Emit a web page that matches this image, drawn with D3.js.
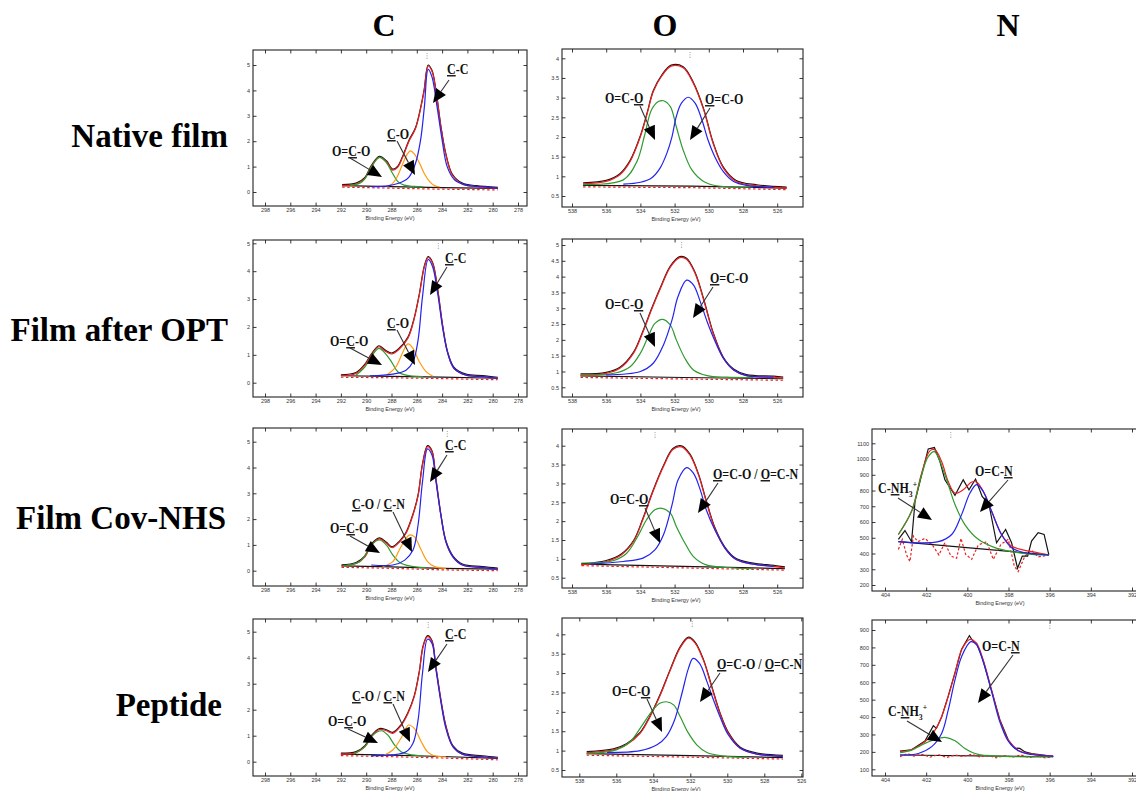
<!DOCTYPE html>
<html lang="en">
<head>
<meta charset="UTF-8">
<title>XPS C1s / O1s / N1s</title>
<script src="https://d3js.org/d3.v7.min.js"></script>
<style>
  body { margin: 0; background: #fff; }
  svg { display: block; }
  .frame { fill: none; stroke: #222; stroke-width: 1.1; }
  .axis path { display: none; }
  .axis line { stroke: #222; stroke-width: 0.9; }
  .axis text { font-family: 'Liberation Sans', Arial, sans-serif; font-size: 5.5px; fill: #333; }
  .xtitle { font-family: 'Liberation Sans', Arial, sans-serif; font-size: 5.5px; fill: #333; }
  .curve { fill: none; stroke-width: 1.2; }
  .head { font-family: 'Liberation Serif', 'Times New Roman', serif; font-weight: bold; font-size: 32px; fill: #000; }
  .note { font-family: 'Liberation Serif', 'Times New Roman', serif; font-weight: bold; font-size: 14px; fill: #111; }
</style>
</head>
<body>
<svg id="fig" width="1136" height="791"></svg>
<script>
// ---- headers ----
const columnNames = ['C', 'O', 'N'];
const rowNames = ['Native film', 'Film after OPT', 'Film Cov-NHS', 'Peptide'];

// ---- tick labels ----
const cTicksX = [298, 296, 294, 292, 290, 288, 286, 284, 282, 280, 278];
const cTicksY = [0, 1, 2, 3, 4, 5];
const oTicksX = [538, 536, 534, 532, 530, 528, 526];
const oTicksY = [0.5, 1, 1.5, 2, 2.5, 3, 3.5, 4];
const oTicksY2 = [0.5, 1, 1.5, 2, 2.5, 3, 3.5, 4, 4.5, 5];
const nTicksX = [404, 402, 400, 398, 396, 394, 392];
const nTicksY3 = [200, 300, 400, 500, 600, 700, 800, 900, 1000, 1100];
const nTicksY4 = [100, 200, 300, 400, 500, 600, 700, 800, 900];

// ---- C 1s, native film ----
const c1Red = [[291.9,0.25],[290.8,0.31],[290.1,0.54],[289.6,1.0],[288.95,1.36],[288.4,1.19],[287.9,0.86],[287.5,0.98],[287.1,1.39],[286.6,2.02],[286.1,2.5],[285.45,3.9],[285.1,4.96],[284.8,4.75],[284.5,4.02],[284.1,2.57],[283.7,1.46],[283.2,0.67],[282.4,0.31],[281.3,0.21],[279.6,0.14]];
const c1Green = [[291.3,0.25],[290.5,0.35],[290.1,0.52],[289.6,0.98],[288.95,1.36],[288.4,1.15],[287.9,0.72],[287.5,0.41],[287.0,0.27],[286.2,0.22],[285.5,0.2]];
const c1Orange = [[288.4,0.22],[288.0,0.3],[287.6,0.55],[287.2,1.0],[286.8,1.45],[286.5,1.62],[286.2,1.5],[285.8,1.15],[285.4,0.72],[285.0,0.42],[284.6,0.25],[284.2,0.2]];
const c1Blue = [[289.6,0.21],[288.2,0.25],[287.1,0.41],[286.6,0.6],[286.1,1.13],[285.7,2.05],[285.4,3.36],[285.1,4.83],[284.8,4.53],[284.4,3.36],[284.0,2.05],[283.6,1.0],[283.0,0.47],[282.1,0.27],[280.8,0.21],[279.6,0.14]];
const c1Base = [[291.9,0.25],[288,0.21],[284,0.17],[279.6,0.14]];

// ---- C 1s, film after OPT ----
const c2Red = [[292.0,0.25],[290.8,0.33],[290.1,0.63],[289.6,0.99],[289.0,1.29],[288.55,1.15],[288.0,1.03],[287.4,1.2],[286.7,1.6],[286.2,2.3],[285.8,3.15],[285.4,4.16],[285.1,4.49],[284.75,4.28],[284.35,3.32],[283.95,2.0],[283.55,1.05],[283.05,0.51],[282.1,0.27],[280.8,0.22],[279.6,0.16]];
const c2Green = [[290.8,0.27],[290.1,0.57],[289.6,0.93],[289.0,1.23],[288.55,1.08],[288.0,0.75],[287.5,0.39],[286.85,0.27],[285.5,0.22]];
const c2Orange = [[288.4,0.27],[287.65,0.57],[287.15,1.05],[286.7,1.39],[286.3,1.23],[285.8,0.75],[285.25,0.39],[284.75,0.24]];
const c2Blue = [[289.7,0.25],[287.9,0.31],[286.85,0.45],[286.3,0.75],[285.9,1.53],[285.55,3.08],[285.1,4.42],[284.75,4.16],[284.35,3.2],[283.95,1.95],[283.55,1.05],[283.05,0.51],[282.1,0.27],[280.8,0.22],[279.6,0.16]];
const c2Base = [[292,0.25],[288,0.23],[284,0.2],[279.6,0.16]];

// ---- C 1s, film Cov-NHS ----
const c3Red = [[291.95,0.19],[290.8,0.28],[290.1,0.54],[289.6,0.99],[288.95,1.23],[288.4,1.06],[287.95,0.89],[287.35,1.12],[286.85,1.45],[286.3,2.16],[285.9,2.9],[285.55,4.1],[285.15,4.81],[284.8,4.61],[284.5,3.58],[284.1,2.16],[283.7,1.12],[283.15,0.54],[282.4,0.22],[280.8,0.12],[279.6,0.06]];
const c3Green = [[291.85,0.19],[290.5,0.35],[290.0,0.67],[289.45,1.06],[288.95,1.19],[288.4,0.99],[287.9,0.61],[287.35,0.32],[286.6,0.19],[285.3,0.12]];
const c3Orange = [[288.7,0.16],[287.9,0.35],[287.25,0.93],[286.6,1.38],[286.2,1.32],[285.65,0.8],[285.15,0.35],[284.6,0.16],[283.7,0.09]];
const c3Blue = [[289.6,0.22],[287.9,0.22],[286.95,0.41],[286.3,0.8],[285.9,1.77],[285.55,3.45],[285.15,4.72],[284.8,4.48],[284.5,3.51],[284.1,2.16],[283.7,1.12],[283.15,0.54],[282.4,0.22],[280.8,0.12],[279.6,0.06]];
const c3Base = [[291.95,0.19],[288,0.15],[284,0.09],[279.6,0.06]];

// ---- C 1s, peptide ----
const c4Red = [[292.0,0.29],[290.8,0.35],[290.1,0.58],[289.6,0.96],[288.95,1.24],[288.4,1.19],[287.9,1.09],[287.25,1.38],[286.7,1.85],[286.2,2.5],[285.8,3.45],[285.5,4.42],[285.15,4.81],[284.8,4.62],[284.5,3.65],[284.1,2.37],[283.7,1.35],[283.15,0.58],[282.4,0.29],[280.8,0.19],[279.6,0.13]];
const c4Green = [[291.0,0.29],[290.1,0.58],[289.45,1.03],[288.8,1.19],[288.3,1.03],[287.75,0.64],[287.25,0.38],[286.6,0.28],[285.5,0.22]];
const c4Orange = [[288.55,0.26],[287.9,0.45],[287.25,0.9],[286.65,1.41],[286.2,1.28],[285.65,0.77],[285.15,0.38],[284.6,0.23],[283.7,0.19]];
const c4Blue = [[289.6,0.23],[287.9,0.26],[286.85,0.38],[286.3,0.71],[285.9,1.6],[285.55,3.4],[285.15,4.71],[284.8,4.55],[284.5,3.59],[284.1,2.31],[283.7,1.28],[283.15,0.58],[282.4,0.29],[280.8,0.19],[279.6,0.13]];
const c4Base = [[292,0.29],[288,0.25],[284,0.2],[279.6,0.13]];

// ---- O 1s ----
const o1Red = [[537.35,0.81],[536.0,0.87],[535.2,1.04],[534.6,1.38],[534.0,2.01],[533.6,2.6],[533.25,3.15],[532.75,3.55],[532.2,3.8],[531.5,3.76],[530.9,3.36],[530.3,2.69],[529.75,1.84],[529.15,1.21],[528.4,0.87],[527.2,0.76],[525.45,0.7]];
const o1Green = [[537.35,0.79],[535.0,0.91],[534.2,1.38],[533.75,2.05],[533.35,2.69],[532.95,2.9],[532.65,2.92],[532.25,2.77],[531.9,2.26],[531.5,1.67],[531.0,1.17],[530.3,0.87],[529.55,0.76],[527.4,0.73]];
const o1Blue = [[535.0,0.8],[534.0,0.85],[533.35,0.96],[532.85,1.21],[532.45,1.59],[532.15,2.01],[531.9,2.52],[531.6,2.86],[531.2,3.01],[530.8,2.86],[530.4,2.43],[530.05,1.93],[529.65,1.5],[529.15,1.12],[528.55,0.87],[527.8,0.77],[526.2,0.72]];
const o1Base = [[537.35,0.77],[531,0.75],[525.45,0.7]];

const o2Red = [[537.5,0.89],[536.0,0.94],[535.2,1.1],[534.4,1.58],[533.85,2.25],[533.35,2.95],[532.85,3.6],[532.25,4.3],[531.7,4.6],[531.3,4.55],[530.8,4.1],[530.3,3.26],[529.75,2.21],[529.15,1.42],[528.55,1.05],[527.8,0.87],[526.2,0.82],[525.65,0.79]];
const o2Green = [[537.5,0.87],[535.4,0.96],[534.6,1.15],[534.0,1.58],[533.55,2.1],[533.15,2.52],[532.7,2.65],[532.25,2.47],[531.9,2.0],[531.4,1.42],[530.9,1.05],[530.1,0.87],[528.95,0.82],[527.4,0.81]];
const o2Blue = [[536.0,0.89],[534.0,1.0],[533.25,1.26],[532.65,1.84],[532.15,2.63],[531.8,3.37],[531.3,3.89],[530.9,3.74],[530.5,3.21],[530.1,2.58],[529.75,2.1],[529.15,1.42],[528.55,1.05],[527.8,0.87],[526.2,0.82]];
const o2Base = [[537.5,0.86],[531.5,0.81],[525.65,0.77]];

const o3Red = [[537.45,0.84],[536.0,0.93],[535.1,1.11],[534.4,1.46],[533.85,2.05],[533.25,2.8],[532.65,3.45],[532.1,3.9],[531.6,3.97],[531.1,3.75],[530.6,3.22],[530.15,2.52],[529.65,1.81],[529.05,1.28],[528.4,0.98],[527.4,0.86],[526.2,0.8],[525.55,0.76]];
const o3Green = [[537.45,0.89],[535.6,0.95],[534.8,1.15],[534.1,1.64],[533.65,2.03],[533.15,2.3],[532.75,2.34],[532.25,2.21],[531.9,1.86],[531.4,1.42],[530.9,1.06],[530.15,0.84],[528.95,0.77],[527.4,0.74]];
const o3Blue = [[536.95,0.86],[535.0,0.93],[533.85,1.02],[533.15,1.24],[532.65,1.64],[532.15,2.43],[531.8,3.09],[531.3,3.42],[530.9,3.27],[530.5,2.83],[530.15,2.3],[529.65,1.77],[529.05,1.28],[528.4,0.98],[527.4,0.86],[526.2,0.8]];
const o3Base = [[537.45,0.86],[531.5,0.8],[525.55,0.74]];

const o4Red = [[537.6,0.95],[536.15,1.02],[535.45,1.15],[534.7,1.45],[534.2,1.85],[533.65,2.4],[533.1,3.05],[532.55,3.65],[532.1,3.9],[531.75,3.78],[531.3,3.34],[530.85,2.65],[530.4,1.96],[529.95,1.45],[529.3,1.06],[528.4,0.91],[527.0,0.85]];
const o4Green = [[537.6,0.92],[536.0,1.02],[535.25,1.23],[534.65,1.62],[534.1,2.0],[533.65,2.22],[533.3,2.26],[532.9,2.18],[532.55,1.88],[532.1,1.45],[531.65,1.15],[531.1,0.95],[530.2,0.86],[528.95,0.83]];
const o4Blue = [[536.5,0.95],[534.7,1.0],[533.8,1.15],[533.3,1.36],[532.85,1.79],[532.45,2.48],[532.1,3.12],[531.85,3.38],[531.5,3.25],[531.1,2.78],[530.75,2.31],[530.4,1.88],[529.95,1.41],[529.3,1.06],[528.4,0.91],[527.0,0.85]];
const o4Base = [[537.6,0.92],[532,0.87],[527.0,0.82]];

// ---- N 1s, film Cov-NHS ----
const n3Raw = [[403.35,490],[403.03,546],[402.71,475],[402.54,732],[402.22,900],[401.9,1064],[401.6,1073],[401.33,984],[401.09,868],[400.6,770],[400.2,868],[399.92,805],[399.6,873],[399.28,763],[398.95,711],[398.58,468],[398.14,553],[397.85,468],[397.56,306],[397.33,384],[397.07,384],[396.88,479],[396.56,532],[396.27,521],[396.04,391]];
const n3Red = [[403.35,521],[402.71,668],[402.22,911],[401.82,1052],[401.57,1058],[401.25,984],[400.93,858],[400.6,784],[400.2,805],[399.79,854],[399.55,854],[399.23,795],[398.82,668],[398.34,521],[397.85,447],[397.2,420],[396.56,405],[396.04,391]];
const n3Green = [[403.35,521],[402.71,668],[402.22,900],[401.9,1016],[401.6,1047],[401.09,900],[400.6,711],[400.12,584],[399.47,490],[398.66,437],[397.85,412],[396.88,395],[396.04,391]];
const n3Blue = [[403.35,475],[401.41,475],[400.76,521],[400.28,647],[399.87,784],[399.55,837],[399.23,795],[398.82,668],[398.34,521],[397.85,437],[397.2,405],[396.04,391]];
const n3Resid = [[403.35,426],[403.16,490],[402.95,391],[402.79,349],[402.62,511],[402.4,475],[402.06,496],[401.7,454],[401.38,391],[401.09,469],[400.8,384],[400.52,370],[400.31,496],[400.08,395],[399.79,363],[399.47,454],[399.06,475],[398.74,363],[398.37,458],[398.01,490],[397.72,321],[397.53,285],[397.2,384],[396.88,420],[396.56,378],[396.04,391]];
const n3Base = [[403.35,475],[396.04,391]];

// ---- N 1s, peptide ----
const n4Raw = [[403.27,205],[402.71,212],[402.06,262],[401.65,350],[401.5,335],[401.25,400],[400.93,520],[400.6,655],[400.28,790],[399.9,868],[399.75,840],[399.55,823],[399.23,725],[398.82,552],[398.42,385],[398.01,268],[397.7,222],[397.45,220],[397.2,200],[396.88,190],[395.83,174]];
const n4Red = [[403.27,201],[402.71,214],[402.06,258],[401.57,325],[401.25,402],[400.93,517],[400.6,651],[400.28,785],[399.87,846],[399.55,823],[399.23,728],[398.82,555],[398.42,383],[398.01,268],[397.53,210],[396.88,187],[395.83,176]];
const n4Green = [[403.27,195],[402.71,210],[402.06,249],[401.57,272],[401.09,283],[400.6,264],[400.12,220],[399.63,191],[398.98,178],[397.53,172],[395.83,172]];
const n4Blue = [[403.27,182],[402.38,191],[401.73,230],[401.25,306],[400.93,440],[400.6,613],[400.28,747],[399.83,833],[399.55,814],[399.23,718],[398.82,546],[398.42,373],[398.01,262],[397.53,207],[396.88,185],[395.83,176]];
const n4Resid = [[403.27,172],[402.9,190],[402.6,176],[402.2,186],[401.8,170],[401.4,184],[401.0,168],[400.6,182],[400.2,174],[399.8,186],[399.4,172],[399.0,180],[398.6,166],[398.2,178],[397.8,170],[397.4,182],[397.0,168],[396.6,176],[396.2,165],[395.83,174]];
const n4Base = [[403.27,182],[395.83,172]];

// ---- little peak markers at the top of each frame (eV) ----
const markerC = [285.2, 284.3, 283.6, 285.1];
const markerO = [531.1, 531.6, 533.15, 531.9];
const markerN = [400.8, 396.0];

// ---- colours ----
const colRed = '#ee2020', colGreen = '#2f9a2f', colBlue = '#2323ee', colOrange = '#ff9a10', colBlack = '#151515';

const svg = d3.select('#fig');

// frame + scales for one spectrum box
function makePanel(p) {
    const [x0, y0, x1, y1] = p.frame;
    const x = d3.scaleLinear().domain(p.xAnchor).range(p.xPix);
    const y = d3.scaleLinear().domain(p.yAnchor).range(p.yPix);
    const g = svg.append('g');

    // ticks on four sides, pointing inwards
    g.append('g').attr('class', 'axis').attr('transform', `translate(0,${y1})`)
        .call(d3.axisBottom(x).tickValues(p.xTicks).tickSize(-3.5).tickPadding(2.5).tickFormat(d3.format('d')));
    g.append('g').attr('class', 'axis').attr('transform', `translate(0,${y0})`)
        .call(d3.axisTop(x).tickValues(p.xTicks).tickSize(-3.5).tickFormat(''));
    g.append('g').attr('class', 'axis').attr('transform', `translate(${x0},0)`)
        .call(d3.axisLeft(y).tickValues(p.yTicks).tickSize(-3.5).tickPadding(3).tickFormat(p.yFormat));
    g.append('g').attr('class', 'axis').attr('transform', `translate(${x1},0)`)
        .call(d3.axisRight(y).tickValues(p.yTicks).tickSize(-3.5).tickFormat(''));

    g.append('rect').attr('class', 'frame')
        .attr('x', x0).attr('y', y0).attr('width', x1 - x0).attr('height', y1 - y0);

    g.append('text').attr('class', 'xtitle')
        .attr('x', p.titleX).attr('y', y1 + 13.5).attr('text-anchor', 'middle')
        .text('Binding Energy (eV)');

    const smooth = d3.line().x(d => x(d[0])).y(d => y(d[1])).curve(d3.curveCatmullRom.alpha(0.5));
    const jagged = d3.line().x(d => x(d[0])).y(d => y(d[1]));

    // background, residual, raw data
    g.append('path').attr('class', 'curve').attr('d', jagged(p.base)).attr('stroke', colBlack).attr('stroke-width', 1);
    if (p.resid) {
        g.append('path').attr('class', 'curve').attr('d', jagged(p.resid))
            .attr('stroke', colRed).attr('stroke-dasharray', '2.5,2').attr('stroke-width', 1);
    } else {
        g.append('path').attr('class', 'curve').attr('d', jagged(p.base)).attr('transform', 'translate(0,1.5)')
            .attr('stroke', colRed).attr('stroke-dasharray', '2.5,2.5').attr('stroke-width', 1.1);
    }
    if (p.raw) {
        g.append('path').attr('class', 'curve').attr('d', jagged(p.raw)).attr('stroke', colBlack).attr('stroke-width', 1);
    } else {
        g.append('path').attr('class', 'curve').attr('d', smooth(p.red)).attr('transform', 'translate(0,-1)')
            .attr('stroke', colBlack).attr('stroke-width', 1.1);
    }
    g.append('path').attr('class', 'curve').attr('d', smooth(p.red)).attr('stroke', colRed);
    p.parts.forEach(part => {
        g.append('path').attr('class', 'curve').attr('d', smooth(part[0])).attr('stroke', part[1]);
    });

    // small peak marker just under the top axis
    g.append('text').attr('x', x(p.marker)).attr('y', y0 + 7.5).attr('text-anchor', 'middle')
        .attr('font-size', 7).attr('fill', '#556').attr('font-family', 'DejaVu Sans').text('⋮');

    // annotations: text with underlined atoms + arrow (narrowed like the source figure)
    p.notes.forEach(n => {
        const t = g.append('text').attr('class', 'note')
            .attr('transform', `translate(${x0 + n.x},${y0 + n.y}) scale(0.86,1)`);
        n.segs.forEach(s => {
            const ts = t.append('tspan').text(s[0]);
            if (s[1] === 'u') ts.style('text-decoration', 'underline');
            if (s[1] === 'sub') ts.attr('font-size', 9).attr('dy', 4);
            if (s[1] === 'sup') ts.attr('font-size', 9).attr('dy', -10);
        });
        drawArrow(g, x0 + n.a[0], y0 + n.a[1], x0 + n.a[2], y0 + n.a[3]);
    });
}

function drawArrow(g, xa, ya, xb, yb) {
    const dx = xb - xa, dy = yb - ya, len = Math.hypot(dx, dy);
    const ux = dx / len, uy = dy / len;
    const hl = 14, hw = 6;
    const bx = xb - ux * hl, by = yb - uy * hl;
    g.append('line').attr('x1', xa).attr('y1', ya).attr('x2', bx).attr('y2', by)
        .attr('stroke', '#333').attr('stroke-width', 1.1);
    g.append('path')
        .attr('d', `M${xb},${yb}L${bx - uy * hw},${by + ux * hw}L${bx + uy * hw},${by - ux * hw}Z`)
        .attr('fill', '#000');
}

const fmtInt = d3.format('d');
const fmtHalf = d => (d % 1 === 0 ? String(d) : d.toFixed(1));

// text pieces
const lblCC = [['C', 'u'], ['-C', 0]];
const lblCO = [['C', 'u'], ['-O', 0]];
const lblOCO = [['O=', 0], ['C', 'u'], ['-O', 0]];
const lblCOCN = [['C', 'u'], ['-O / ', 0], ['C', 'u'], ['-N', 0]];
const lblOCOsingle = [['O=C-', 0], ['O', 'u']];
const lblOCOdouble = [['O', 'u'], ['=C-O', 0]];
const lblOCOOCN = [['O', 'u'], ['=C-O / ', 0], ['O', 'u'], ['=C-N', 0]];
const lblOCN = [['O=C-', 0], ['N', 'u']];
const lblNH3 = [['C-', 0], ['N', 'u'], ['H', 0], ['3', 'sub'], ['+', 'sup']];

const cFrames = [[253, 50, 527, 206], [253, 240, 527, 397], [253, 428, 527, 586], [253, 619, 527, 776]];
const cYPix = [[192, 65], [382.7, 243.3], [570.7, 441.7], [761.7, 631.7]];
const cData = [
    [c1Red, c1Green, c1Orange, c1Blue, c1Base],
    [c2Red, c2Green, c2Orange, c2Blue, c2Base],
    [c3Red, c3Green, c3Orange, c3Blue, c3Base],
    [c4Red, c4Green, c4Orange, c4Blue, c4Base]
];
const cNotes = [
    [{segs: lblCC, x: 194, y: 24, a: [196, 30, 180, 53]},
     {segs: lblCO, x: 134, y: 89, a: [144, 91, 162, 125]},
     {segs: lblOCO, x: 79, y: 106, a: [97, 108, 129, 127]}],
    [{segs: lblCC, x: 192, y: 23, a: [194, 27, 177, 55]},
     {segs: lblCO, x: 134, y: 88, a: [144, 90, 162, 125]},
     {segs: lblOCO, x: 77, y: 106, a: [97, 108, 129, 125]}],
    [{segs: lblCC, x: 192, y: 22, a: [194, 27, 177, 54]},
     {segs: lblCOCN, x: 99, y: 81, a: [140, 84, 159, 124]},
     {segs: lblOCO, x: 77, y: 105, a: [97, 108, 127, 125]}],
    [{segs: lblCC, x: 192, y: 20, a: [194, 25, 175, 53]},
     {segs: lblCOCN, x: 99, y: 82, a: [140, 85, 157, 123]},
     {segs: lblOCO, x: 75, y: 107, a: [95, 110, 125, 124]}]
];
cFrames.forEach((f, i) => {
    const d = cData[i];
    makePanel({
        frame: f, xAnchor: [298, 278], xPix: [265, 518], yAnchor: [0, 5], yPix: cYPix[i],
        xTicks: cTicksX, yTicks: cTicksY, yFormat: fmtInt, titleX: 390,
        red: d[0], parts: [[d[1], colGreen], [d[2], colOrange], [d[3], colBlue]], base: d[4],
        marker: markerC[i], notes: cNotes[i]
    });
});

const oFrames = [[562, 49, 803, 207], [562, 239, 803, 397], [562, 429, 803, 588], [562, 618, 803, 777]];
const oXPix = [[572, 743], [572, 743], [572, 743], [579.3, 764.3]];
const oYAnchor = [[4, 0.5], [5, 0.5], [4, 0.5], [4, 0.5]];
const oYPix = [[58.3, 196], [245, 387.3], [445.7, 577.7], [634.3, 770]];
const oData = [
    [o1Red, o1Green, o1Blue, o1Base],
    [o2Red, o2Green, o2Blue, o2Base],
    [o3Red, o3Green, o3Blue, o3Base],
    [o4Red, o4Green, o4Blue, o4Base]
];
const oNotes = [
    [{segs: lblOCOdouble, x: 143, y: 55, a: [148, 59, 128, 91]},
     {segs: lblOCOsingle, x: 43, y: 54, a: [78, 57, 93, 91]}],
    [{segs: lblOCOdouble, x: 148, y: 44, a: [151, 48, 131, 79]},
     {segs: lblOCOsingle, x: 43, y: 70, a: [78, 74, 93, 108]}],
    [{segs: lblOCOOCN, x: 151, y: 50, a: [156, 54, 136, 84]},
     {segs: lblOCOsingle, x: 48, y: 75, a: [83, 79, 98, 114]}],
    [{segs: lblOCOOCN, x: 155, y: 51, a: [158, 55, 138, 84]},
     {segs: lblOCOsingle, x: 50, y: 78, a: [85, 81, 100, 114]}]
];
oFrames.forEach((f, i) => {
    const d = oData[i];
    makePanel({
        frame: f, xAnchor: [538, 528], xPix: oXPix[i], yAnchor: oYAnchor[i], yPix: oYPix[i],
        xTicks: oTicksX, yTicks: i === 1 ? oTicksY2 : oTicksY, yFormat: fmtHalf, titleX: 676,
        red: d[0], parts: [[d[1], colGreen], [d[2], colBlue]], base: d[3],
        marker: markerO[i], notes: oNotes[i]
    });
});

makePanel({
    frame: [872, 429, 1160, 591], xAnchor: [404, 392], xPix: [885, 1132], yAnchor: [1100, 200], yPix: [443.3, 585],
    xTicks: nTicksX, yTicks: nTicksY3, yFormat: fmtInt, titleX: 1000,
    red: n3Red, parts: [[n3Green, colGreen], [n3Blue, colBlue]], base: n3Base, raw: n3Raw, resid: n3Resid,
    marker: markerN[0],
    notes: [{segs: lblNH3, x: 6, y: 64, a: [26, 69, 60, 91]},
            {segs: lblOCN, x: 103, y: 47, a: [136, 51, 108, 83]}]
});
makePanel({
    frame: [872, 620, 1160, 776], xAnchor: [404, 392], xPix: [885, 1132], yAnchor: [900, 100], yPix: [630, 769.3],
    xTicks: nTicksX, yTicks: nTicksY4, yFormat: fmtInt, titleX: 1000,
    red: n4Red, parts: [[n4Green, colGreen], [n4Blue, colBlue]], base: n4Base, raw: n4Raw, resid: n4Resid,
    marker: markerN[1],
    notes: [{segs: lblOCN, x: 110, y: 31, a: [141, 35, 106, 83]},
            {segs: lblNH3, x: 16, y: 96, a: [35, 101, 70, 122]}]
});

// column headers and row labels
svg.selectAll('text.colhead').data(columnNames).enter().append('text')
    .attr('class', 'head colhead').attr('text-anchor', 'middle')
    .attr('x', (d, i) => [384, 665, 1008][i]).attr('y', 36).text(d => d);
svg.selectAll('text.rowhead').data(rowNames).enter().append('text')
    .attr('class', 'head rowhead').attr('text-anchor', 'end')
    .style('font-size', '33px')
    .attr('x', (d, i) => [228, 228, 226, 222][i]).attr('y', (d, i) => [147, 341, 529, 716][i]).text(d => d);
</script>
</body>
</html>
